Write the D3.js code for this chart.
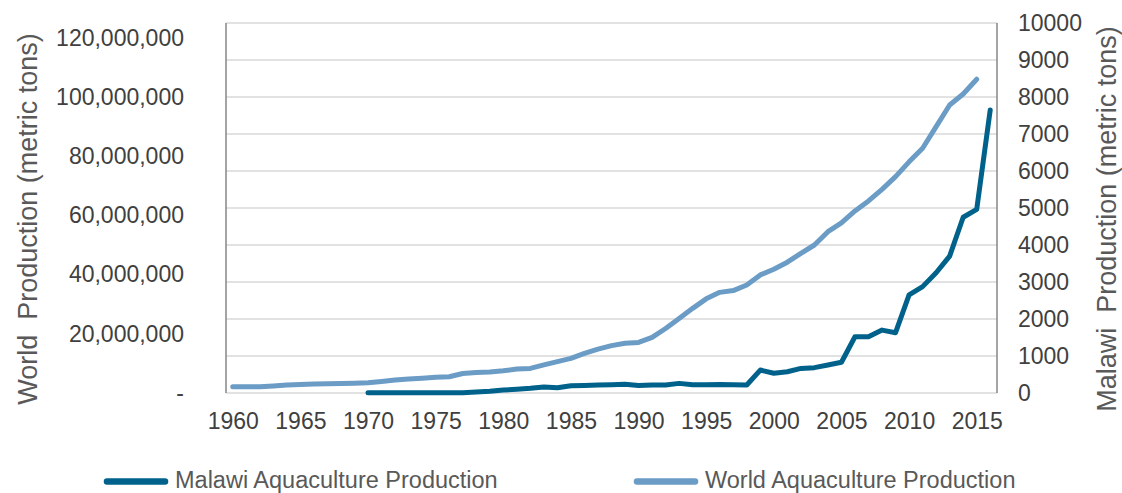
<!DOCTYPE html>
<html>
<head>
<meta charset="utf-8">
<script src="https://cdn.jsdelivr.net/npm/d3@7"></script>
<style>
  body { margin: 0; background: #fff; }
  text { font-family: "Liberation Sans", Arial, sans-serif; }
</style>
</head>
<body>
<svg id="chart"></svg>
<script>
// years on the category axis
var years = d3.range(1960, 2017);
var yearLabels = [1960, 1965, 1970, 1975, 1980, 1985, 1990, 1995, 2000, 2005, 2010, 2015];

// World aquaculture production, millions of metric tons, 1960-2015
var worldYears = d3.range(1960, 2016);
var worldMillions = [
  2.1, 2.1, 2.1, 2.4, 2.7, 2.9, 3.0, 3.1, 3.2, 3.3,
  3.5, 3.9, 4.4, 4.7, 5.0, 5.3, 5.5, 6.6, 6.9, 7.1,
  7.5, 8.1, 8.3, 9.5, 10.6, 11.7, 13.4, 14.8, 16.0, 16.8,
  17.1, 18.8, 21.8, 25.2, 28.6, 31.8, 34.0, 34.6, 36.5, 39.9,
  41.8, 44.2, 47.2, 50.0, 54.5, 57.5, 61.5, 64.9, 68.8, 73.1,
  78.1, 82.7, 90.0, 97.3, 101.0, 106.0
];

// Malawi aquaculture production, metric tons, 1970-2016
var malawiYears = d3.range(1970, 2017);
var malawiTons = [
  5, 5, 5, 5, 5, 5, 5, 10, 25, 45,
  80, 100, 127, 165, 140, 195, 205, 215, 225, 235,
  200, 215, 215, 260, 220, 225, 230, 220, 215, 620,
  535, 575, 665, 685, 755, 830, 1520, 1520, 1700, 1630,
  2650, 2875, 3250, 3700, 4750, 4965, 7650
];

var leftTicks = [0, 20e6, 40e6, 60e6, 80e6, 100e6, 120e6];
var rightTicks = d3.range(0, 10001, 1000);

var seriesNames = ["Malawi Aquaculture Production", "World Aquaculture Production"];
var seriesColors = ["#00628b", "#6b9cc5"];

var width = 1122, height = 493;
var plotLeft = 226, plotRight = 997, plotTop = 23, plotBottom = 393;

var svg = d3.select("#chart").attr("width", width).attr("height", height);

var x = d3.scalePoint().domain(years).range([plotLeft, plotRight]).padding(0.5);
var yLeft = d3.scaleLinear().domain([0, 125e6]).range([plotBottom, plotTop]);
var yRight = d3.scaleLinear().domain([0, 10000]).range([plotBottom, plotTop]);

// gridlines follow the right axis
svg.append("g")
  .selectAll("line")
  .data(rightTicks)
  .enter()
  .append("line")
  .attr("x1", plotLeft)
  .attr("x2", plotRight)
  .attr("y1", function (d) { return yRight(d); })
  .attr("y2", function (d) { return yRight(d); })
  .attr("stroke", "#d9d9d9")
  .attr("stroke-width", 1.3);

// axis lines
svg.append("line")
  .attr("x1", plotLeft).attr("x2", plotLeft)
  .attr("y1", plotTop).attr("y2", plotBottom)
  .attr("stroke", "#868686").attr("stroke-width", 1.5);
svg.append("line")
  .attr("x1", plotRight).attr("x2", plotRight)
  .attr("y1", plotTop).attr("y2", plotBottom)
  .attr("stroke", "#868686").attr("stroke-width", 1.5);

var leftAxis = d3.axisLeft(yLeft)
  .tickValues(leftTicks)
  .tickSize(0)
  .tickPadding(42)
  .tickFormat(function (d) { return d === 0 ? "-" : d3.format(",")(d); });

var gl = svg.append("g").attr("transform", "translate(" + plotLeft + ",0)").call(leftAxis);
gl.select(".domain").remove();
gl.selectAll("text").attr("font-size", 23).attr("fill", "#404040")
  .attr("font-family", "Liberation Sans, Arial, sans-serif");

var rightAxis = d3.axisRight(yRight)
  .tickValues(rightTicks)
  .tickSize(0)
  .tickPadding(21)
  .tickFormat(d3.format("d"));

var gr = svg.append("g").attr("transform", "translate(" + plotRight + ",0)").call(rightAxis);
gr.select(".domain").remove();
gr.selectAll("text").attr("font-size", 23).attr("fill", "#404040")
  .attr("font-family", "Liberation Sans, Arial, sans-serif");

var xAxis = d3.axisBottom(x)
  .tickValues(yearLabels)
  .tickSize(0)
  .tickPadding(20);

var gx = svg.append("g").attr("transform", "translate(0," + plotBottom + ")").call(xAxis);
gx.select(".domain").remove();
gx.selectAll("text").attr("font-size", 23).attr("fill", "#404040")
  .attr("font-family", "Liberation Sans, Arial, sans-serif");

// axis titles
svg.append("text")
  .attr("transform", "translate(37,219) rotate(-90)")
  .attr("text-anchor", "middle")
  .attr("font-size", 27)
  .attr("fill", "#595959")
  .attr("xml:space", "preserve")
  .text("World  Production (metric tons)");

svg.append("text")
  .attr("transform", "translate(1116,219) rotate(-90)")
  .attr("text-anchor", "middle")
  .attr("font-size", 27)
  .attr("fill", "#595959")
  .attr("xml:space", "preserve")
  .text("Malawi  Production (metric tons)");

// lines
var worldLine = d3.line()
  .x(function (d, i) { return x(worldYears[i]); })
  .y(function (d) { return yLeft(d * 1e6); });

var malawiLine = d3.line()
  .x(function (d, i) { return x(malawiYears[i]); })
  .y(function (d) { return yRight(d); });

svg.append("path")
  .attr("d", worldLine(worldMillions))
  .attr("fill", "none")
  .attr("stroke", seriesColors[1])
  .attr("stroke-width", 5)
  .attr("stroke-linejoin", "round")
  .attr("stroke-linecap", "round");

svg.append("path")
  .attr("d", malawiLine(malawiTons))
  .attr("fill", "none")
  .attr("stroke", seriesColors[0])
  .attr("stroke-width", 5)
  .attr("stroke-linejoin", "round")
  .attr("stroke-linecap", "round");

// legend
var legendX = [107, 637];
var legend = svg.selectAll(".legend")
  .data(seriesNames)
  .enter()
  .append("g")
  .attr("class", "legend")
  .attr("transform", function (d, i) { return "translate(" + legendX[i] + ",481.5)"; });

legend.append("line")
  .attr("x1", 0).attr("x2", 58)
  .attr("stroke", function (d, i) { return seriesColors[i]; })
  .attr("stroke-width", 6.5)
  .attr("stroke-linecap", "round");

legend.append("text")
  .attr("x", 68)
  .attr("y", 6.5)
  .attr("font-size", 23.5)
  .attr("fill", "#595959")
  .text(function (d) { return d; });
</script>
</body>
</html>
